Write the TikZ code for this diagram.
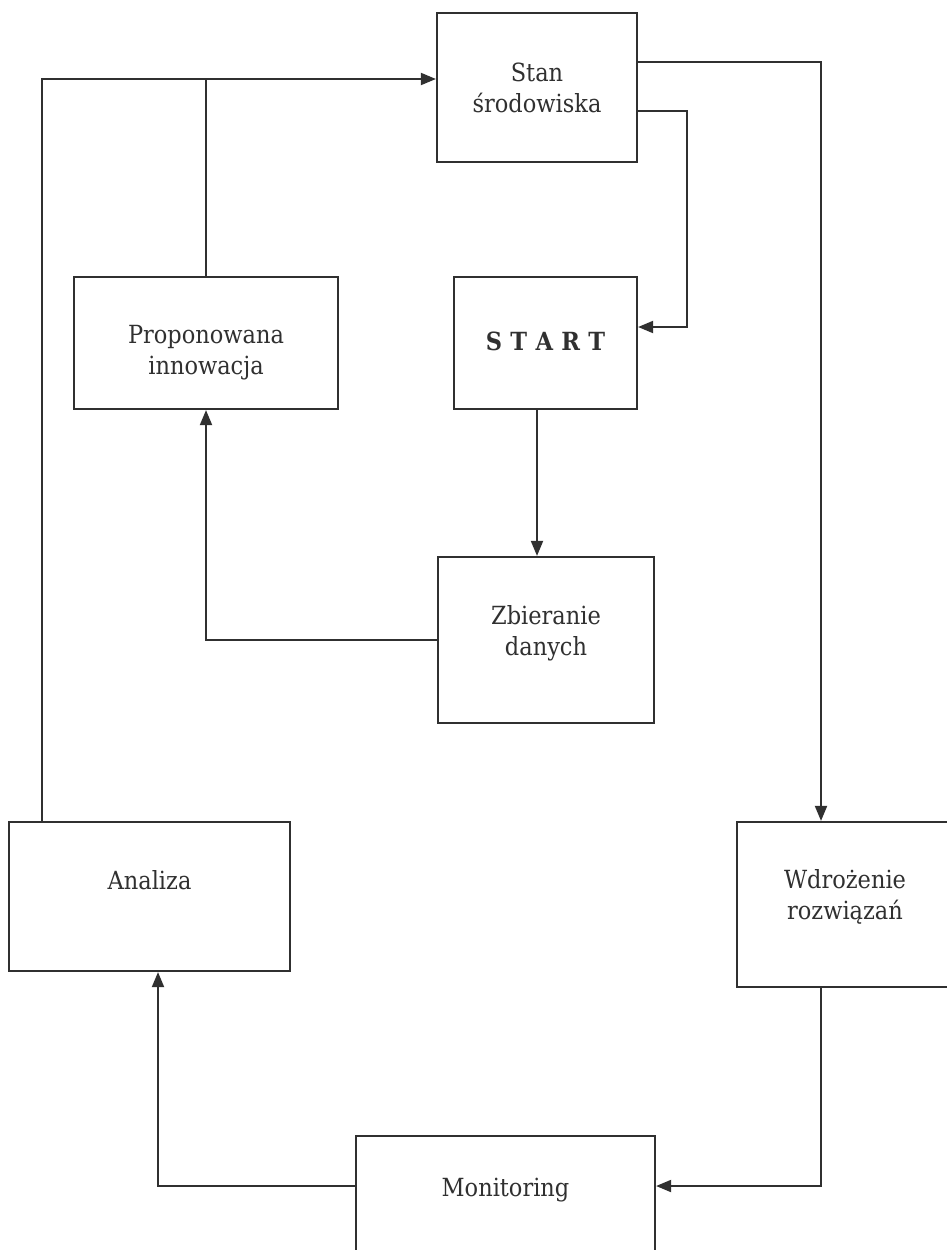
\documentclass[tikz,border=0pt]{standalone}
\usepackage{fontspec}
\setmainfont{DejaVu Serif Condensed}
\usetikzlibrary{arrows.meta}
\definecolor{ink}{HTML}{303030}
\tikzset{
  box/.style={draw=ink, line width=2.2pt, rectangle, inner sep=0pt},
  lbl/.style={text=ink, align=center, font=\fontsize{25}{31}\selectfont, inner sep=0pt},
  wire/.style={draw=ink, line width=1.9pt},
  arr/.style={wire, -{Triangle[length=15pt, width=12pt]}},
}
\begin{document}
\begin{tikzpicture}[x=1pt, y=-1pt]
  \useasboundingbox[fill=white] (0,0) rectangle (947,1250);
  \begin{scope}
  \clip (0,0) rectangle (947,1250);

  % boxes
  \node[box, minimum width=200pt, minimum height=149pt] (stan)    at (537,87.5) {};
  \node[box, minimum width=183pt, minimum height=132pt] (start)   at (545.5,343) {};
  \node[box, minimum width=264pt, minimum height=132pt] (prop)    at (206,343) {};
  \node[box, minimum width=216pt, minimum height=166pt] (zbier)   at (546,640) {};
  \node[box, minimum width=281pt, minimum height=149pt] (analiza) at (149.5,896.5) {};
  \node[box, minimum width=216pt, minimum height=165pt] (wdroz)   at (845,904.5) {};
  \node[box, minimum width=299pt, minimum height=130pt] (monit)   at (505.5,1201) {};

  % labels
  \node[lbl] (stan-t)    at (537,88)    {Stan\\środowiska};
  \node[lbl, font=\bfseries\fontsize{25}{31}\selectfont] (start-t) at (545.5,341) {S\,\,T\,\,A\,\,R\,\,T};
  \node[lbl] (prop-t)    at (206,353)   {Proponowana\\innowacja};
  \node[lbl] (zbier-t)   at (546,633)   {Zbieranie\\danych};
  \node[lbl] (analiza-t) at (149.5,880) {Analiza};
  \node[lbl] (wdroz-t)   at (845,897)   {Wdrożenie\\rozwiązań};
  \node[lbl] (monit-t)   at (505.5,1190) {Monitoring};

  % routing lanes
  \coordinate (topLane)  at (42,79);
  \coordinate (outLane)  at (821,62);
  \coordinate (loopA)    at (687,111);
  \coordinate (loopB)    at (687,327);
  \coordinate (downLane) at (537,0);
  \coordinate (botLane)  at (0,1186);
  \coordinate (upLane)   at (158,0);

  % connectors
  \draw[arr] (analiza.north -| topLane) |- (stan.west |- topLane);
  \draw[wire] (prop.north) -- (prop.north |- topLane);
  \draw[arr] (stan.east |- outLane) -| (wdroz.north -| outLane);
  \draw[arr] (stan.east |- loopA) -| (loopB) -- (start.east |- loopB);
  \draw[arr] (start.south -| downLane) -- (zbier.north -| downLane);
  \draw[arr] (zbier.west) -| (prop.south);
  \draw[arr] (wdroz.south -| outLane) |- (monit.east |- botLane);
  \draw[arr] (monit.west |- botLane) -| (analiza.south -| upLane);
  \end{scope}
\end{tikzpicture}
\end{document}
